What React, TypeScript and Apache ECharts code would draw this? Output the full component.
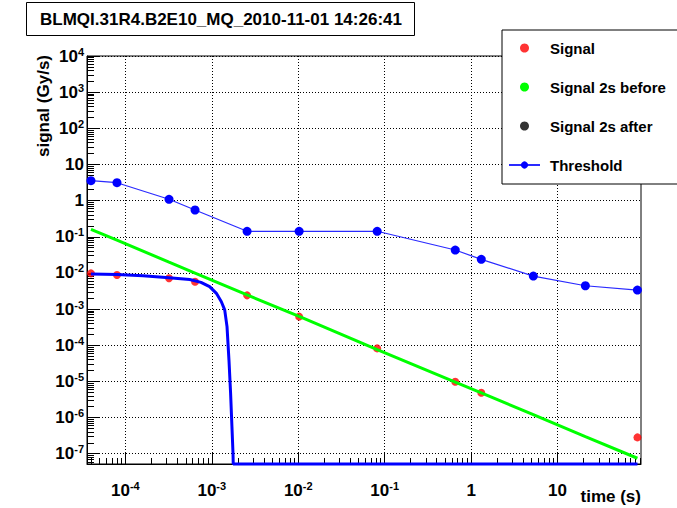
import React, { useEffect, useRef } from "react";
import * as echarts from "echarts";

// ---- data ----
const times = [4e-5, 8e-5, 3.2e-4, 6.4e-4, 2.56e-3, 1.024e-2, 8.192e-2, 0.65536, 1.31072, 5.24288, 20.97152, 83.88608];
const signal: (number | null)[] = [9.75e-3, 8.75e-3, 7.1e-3, 5.7e-3, 2.4e-3, 6.2e-4, 8.2e-5, 9.8e-6, 4.85e-6, null, null, 2.83e-7];
const signalBefore = [0.161, 0.081, 0.0199, 0.0099, 0.00247, 6.26e-4, 7.6e-5, 9.6e-6, 4.84e-6, 1.2e-6, 2.96e-7, 7.5e-8];
const signalAfter: number[] = [];
const threshold = [3.56, 3.13, 1.09, 0.55, 0.142, 0.142, 0.142, 0.043, 0.0238, 0.0082, 0.00443, 0.00336];
const curveTimes = [4e-5, 8e-5, 1.6e-4, 3.2e-4, 5.55e-4, 7.5e-4, 9.44e-4, 1.13e-3, 1.29e-3, 1.41e-3, 1.5e-3, 1.58e-3, 1.65e-3, 1.71e-3, 1.76e-3, 1.77e-3, 84];
const curveValues = [9.3e-3, 9.0e-3, 8.35e-3, 7.4e-3, 6.6e-3, 5.5e-3, 4.2e-3, 2.73e-3, 1.6e-3, 9.5e-4, 3.27e-4, 3.9e-5, 4.7e-6, 5.6e-7, 1.0e-7, 5.2e-8, 5.2e-8];

const seriesNames = ["Signal", "Signal 2s before", "Signal 2s after", "Threshold"];
const titleText = "BLMQI.31R4.B2E10_MQ_2010-11-01 14:26:41";
const yTitle = "signal (Gy/s)";
const xTitle = "time (s)";

// axis ranges and tick exponents
const X_MIN = 3.6e-5;
const X_MAX = 92.3;
const Y_MIN = 5.2e-8;
const Y_MAX = 1e4;
const xDecades = [-4, -3, -2, -1, 0, 1];
const yDecades = [-7, -6, -5, -4, -3, -2, -1, 0, 1, 2, 3, 4];
const xMinorDecades = [-5, -4, -3, -2, -1, 0, 1];
const yMinorDecades = [-8, -7, -6, -5, -4, -3, -2, -1, 0, 1, 2, 3];
const minorMult = [2, 3, 4, 5, 6, 7, 8, 9];

const FONT = "'Liberation Sans', Arial, Helvetica, sans-serif";

const majorVals = (decs: number[]) => decs.map((e) => Math.pow(10, e));
const minorVals = (decs: number[], lo: number, hi: number) => {
  const out: number[] = [];
  decs.forEach((e) => minorMult.forEach((m) => {
    const v = m * Math.pow(10, e);
    if (v > lo && v < hi) out.push(v);
  }));
  return out;
};

const fmt = (v: number) => {
  const e = Math.round(Math.log10(v));
  if (e === 0) return "1";
  if (e === 1) return "10";
  return `10{sup|${e}}`;
};

const labelStyle = {
  color: "#000",
  fontSize: 17,
  fontWeight: "bold" as const,
  fontFamily: FONT,
  lineHeight: 20,
  rich: {
    sup: { fontSize: 11, fontWeight: "bold" as const, fontFamily: FONT, color: "#000", verticalAlign: "top" as const, lineHeight: 11 },
  },
  formatter: (v: number) => fmt(v),
};

export default function App() {
  const ref = useRef<HTMLDivElement>(null);
  useEffect(() => {
    const chart = echarts.init(ref.current!, null, { renderer: "svg" });
    const xMajor = majorVals(xDecades);
    const yMajor = majorVals(yDecades);
    const xMinor = minorVals(xMinorDecades, X_MIN, X_MAX);
    const yMinor = minorVals(yMinorDecades, Y_MIN, Y_MAX);

    const option: any = {
      animation: false,
      backgroundColor: "#fff",
      grid: {
        left: 87, top: 56, right: 36, bottom: 44,
        show: true, borderColor: "#000", borderWidth: 1,
        containLabel: false, outerBoundsMode: "none",
      },
      legend: {
        orient: "vertical",
        left: 502, top: 30,
        padding: [10, 12, 11, 6],
        itemGap: 23,
        itemWidth: 31,
        itemHeight: 9,
        borderColor: "#000", borderWidth: 1, backgroundColor: "#fff",
        textStyle: { color: "#000", fontSize: 15, fontWeight: "bold", fontFamily: FONT, lineHeight: 16, padding: [0, 0, 0, 5] },
        data: [
          { name: seriesNames[0], icon: "circle" },
          { name: seriesNames[1], icon: "circle" },
          { name: seriesNames[2], icon: "circle" },
          { name: seriesNames[3] },
        ],
      },
      xAxis: [
        {
          type: "log", min: X_MIN, max: X_MAX, position: "bottom",
          axisLine: { show: true, lineStyle: { color: "#000", width: 1 } },
          axisTick: { show: true, inside: true, length: 11, customValues: xMajor, lineStyle: { color: "#000", width: 1 } },
          axisLabel: { ...labelStyle, customValues: xMajor, margin: 16, align: "center" },
          splitLine: { show: true, lineStyle: { color: "#000", width: 1, type: [1, 2] } },
          minorTick: { show: false },
        },
        {
          type: "log", min: X_MIN, max: X_MAX, position: "bottom",
          axisLine: { show: false },
          axisTick: { show: true, inside: true, length: 6, customValues: xMinor, lineStyle: { color: "#000", width: 1 } },
          axisLabel: { show: false },
          splitLine: { show: false },
        },
      ],
      yAxis: [
        {
          type: "log", min: Y_MIN, max: Y_MAX, position: "left",
          axisLine: { show: true, lineStyle: { color: "#000", width: 1 } },
          axisTick: { show: true, inside: true, length: 12, customValues: yMajor, lineStyle: { color: "#000", width: 1 } },
          axisLabel: { ...labelStyle, customValues: yMajor, margin: 3 },
          splitLine: { show: true, lineStyle: { color: "#000", width: 1, type: [1, 2] } },
          minorTick: { show: false },
        },
        {
          type: "log", min: Y_MIN, max: Y_MAX, position: "left",
          axisLine: { show: false },
          axisTick: { show: true, inside: true, length: 7, customValues: yMinor, lineStyle: { color: "#000", width: 1 } },
          axisLabel: { show: false },
          splitLine: { show: false },
        },
      ],
      series: [
        {
          name: seriesNames[0], type: "scatter", symbol: "circle", symbolSize: 8,
          itemStyle: { color: "#ff0000" },
          data: times.map((t, i) => [t, signal[i]]).filter((d) => d[1] != null),
        },
        {
          name: seriesNames[1], type: "line", showSymbol: false, symbol: "circle",
          color: "#00ff00",
          lineStyle: { color: "#00ff00", width: 3 },
          itemStyle: { color: "#00ff00" },
          data: times.map((t, i) => [t, signalBefore[i]]),
        },
        {
          name: seriesNames[2], type: "scatter", symbol: "circle", symbolSize: 8,
          itemStyle: { color: "#000000" },
          data: signalAfter,
        },
        {
          name: seriesNames[3], type: "line", symbol: "circle", symbolSize: 9,
          color: "#0000ff",
          lineStyle: { color: "#2a2aff", width: 1.2 },
          itemStyle: { color: "#0000ff" },
          data: times.map((t, i) => [t, threshold[i]]),
        },
        {
          name: "curve", type: "line", showSymbol: false, clip: false,
          lineStyle: { color: "#0000ff", width: 3 },
          itemStyle: { color: "#0000ff" },
          data: curveTimes.map((t, i) => [t, curveValues[i]]),
        },
      ],
      graphic: [
        {
          type: "rect", left: 26, top: 2, z: 10,
          shape: { width: 388, height: 33 },
          style: { fill: "#fff", stroke: "#000", lineWidth: 1 },
        },
        {
          type: "text", x: 221, y: 19, z: 11,
          style: { text: titleText, fill: "#000", font: `bold 17px ${FONT}`, textAlign: "center", textVerticalAlign: "middle" },
        },
        {
          type: "text", x: 43, y: 55, rotation: Math.PI / 2, z: 11,
          style: { text: yTitle, fill: "#000", font: `bold 17px ${FONT}`, textAlign: "right", textVerticalAlign: "middle" },
        },
        {
          type: "text", x: 641, y: 496, z: 11,
          style: { text: xTitle, fill: "#000", font: `bold 17px ${FONT}`, textAlign: "right", textVerticalAlign: "middle" },
        },
      ],
    };
    chart.setOption(option);
    return () => chart.dispose();
  }, []);
  return <div ref={ref} style={{ position: "fixed", left: 0, top: 0, width: 677, height: 508, background: "#fff" }} />;
}
